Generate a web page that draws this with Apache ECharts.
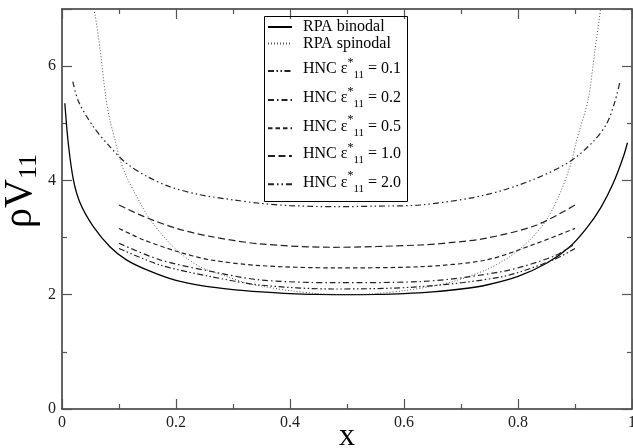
<!DOCTYPE html>
<html><head><meta charset="utf-8">
<script src="https://cdn.jsdelivr.net/npm/echarts@6/dist/echarts.min.js"></script>
<style>html,body{margin:0;padding:0;background:#fff}#c{width:633px;height:448px}</style>
</head><body><div id="c"></div>
<script>
// ---- data ----
const binodalX = [0.005,0.011,0.02,0.032,0.055,0.084,0.113,0.15,0.2,0.25,0.3,0.35,0.4,0.45,0.5,0.55,0.6,0.65,0.7,0.745,0.8,0.85,0.891,0.92,0.945,0.967,0.985,0.992];
const binodalY = [5.35,4.65,4.01,3.60,3.19,2.84,2.61,2.43,2.25,2.15,2.09,2.05,2.02,2.005,2.00,2.005,2.02,2.05,2.10,2.17,2.32,2.55,2.84,3.16,3.52,3.95,4.42,4.66];
const spinodalX = [0.055,0.058,0.067,0.077,0.084,0.093,0.102,0.113,0.131,0.151,0.178,0.207,0.242,0.289,0.324,0.35,0.4,0.45,0.5,0.55,0.6,0.65,0.686,0.745,0.786,0.821,0.85,0.874,0.894,0.903,0.923,0.935,0.945];
const spinodalY = [7.0,6.9,6.28,5.44,5.06,4.71,4.36,4.07,3.72,3.37,3.02,2.73,2.49,2.32,2.20,2.15,2.07,2.02,2.00,2.02,2.07,2.15,2.23,2.44,2.67,2.96,3.31,3.78,4.33,4.71,5.41,6.28,7.0];
const hnc20X = [0.019,0.029,0.055,0.084,0.113,0.149,0.189,0.242,0.30,0.347,0.4,0.476,0.55,0.628,0.716,0.774,0.833,0.891,0.932,0.956,0.97,0.979];
const hnc20Y = [5.73,5.38,4.94,4.59,4.30,4.07,3.89,3.75,3.66,3.60,3.56,3.54,3.55,3.57,3.69,3.83,4.04,4.33,4.68,5.00,5.38,5.73];
const hnc10X = [0.1,0.143,0.201,0.26,0.347,0.476,0.628,0.68,0.745,0.833,0.9];
const hnc10Y = [3.57,3.37,3.16,3.02,2.89,2.83,2.87,2.91,2.99,3.22,3.57];
const hnc05X = [0.1,0.143,0.201,0.26,0.347,0.476,0.628,0.745,0.833,0.9];
const hnc05Y = [3.16,2.96,2.76,2.61,2.51,2.47,2.49,2.61,2.90,3.16];
const hnc02X = [0.1,0.172,0.26,0.347,0.476,0.628,0.774,0.862,0.9];
const hnc02Y = [2.90,2.61,2.41,2.26,2.21,2.23,2.41,2.67,2.89];
const hnc01X = [0.1,0.172,0.26,0.347,0.476,0.628,0.774,0.862,0.9];
const hnc01Y = [2.81,2.52,2.32,2.17,2.10,2.14,2.32,2.61,2.81];

const xTickLabels = ['0','0.2','0.4','0.6','0.8','1'];
const yTickLabels = ['0','2','4','6'];
const seriesNames = ['RPA binodal','RPA spinodal','HNC ε*11 = 0.1','HNC ε*11 = 0.2','HNC ε*11 = 0.5','HNC ε*11 = 1.0','HNC ε*11 = 2.0'];
const epsLabels = ['0.1','0.2','0.5','1.0','2.0'];
// ---------------------------------------------

const pair = (xs, ys) => xs.map((v, i) => [v, ys[i]]);
const FONT = 'Liberation Serif';
const AX = '#333';

function mkSeries(name, xs, ys, color, width, dash) {
  return {
    name, type: 'line', data: pair(xs, ys), smooth: 0.3,
    symbol: 'none', showSymbol: false,
    xAxisIndex: 0, yAxisIndex: 0,
    lineStyle: { color, width, type: dash }, itemStyle: { color },
    emphasis: { disabled: true }, silent: true, animation: false
  };
}

const series = [
  mkSeries(seriesNames[0], binodalX, binodalY, '#000', 1.3, 'solid'),
  mkSeries(seriesNames[1], spinodalX, spinodalY, '#555', 1, [1, 2]),
  mkSeries(seriesNames[2], hnc01X, hnc01Y, '#222', 1.2, [6, 2.5, 1.5, 2.5, 1.5, 2.5]),
  mkSeries(seriesNames[3], hnc02X, hnc02Y, '#222', 1.2, [6, 3, 1.5, 3]),
  mkSeries(seriesNames[4], hnc05X, hnc05Y, '#222', 1.2, [4.5, 3]),
  mkSeries(seriesNames[5], hnc10X, hnc10Y, '#222', 1.2, [7, 3.5]),
  mkSeries(seriesNames[6], hnc20X, hnc20Y, '#222', 1.2, [6, 3, 1.5, 3, 1.5, 3])
];

const rich = {
  a: { fontFamily: FONT, fontSize: 16, color: '#000', lineHeight: 24, verticalAlign: 'middle' },
  sup: { fontFamily: FONT, fontSize: 12, color: '#000', lineHeight: 20, verticalAlign: 'top' },
  sub: { fontFamily: FONT, fontSize: 11, color: '#000', lineHeight: 9, verticalAlign: 'bottom' }
};
const lineCenters = [27, 43.5, 71, 100, 128.3, 156, 184.3];
const legends = seriesNames.map((n, i) => {
  const isHNC = i >= 2;
  return {
    show: true, data: [n], orient: 'vertical', left: 267,
    top: isHNC ? lineCenters[i] - 14 : lineCenters[i] - 8,
    padding: 0, itemWidth: 24, itemHeight: 14, selectedMode: false,
    itemStyle: { opacity: 0, borderWidth: 0 },
    formatter: isHNC ? (() => '{a|HNC ε}{sup|*}{sub|11}{a| = ' + epsLabels[i - 2] + '}') : undefined,
    textStyle: isHNC
      ? { fontFamily: FONT, fontSize: 16, color: '#000', padding: [0, 0, 4, 6], rich }
      : { fontFamily: FONT, fontSize: 16, color: '#000', padding: [0, 0, 0, 6] }
  };
});

const grid = { left: 62, right: 1, top: 9, bottom: 39, containLabel: false, outerBoundsMode: 'none' };

const baseX = {
  type: 'value', min: 0, max: 1, interval: 0.2,
  axisLine: { show: true, onZero: false, lineStyle: { color: AX, width: 1.5 } },
  axisTick: { show: true, inside: true, length: 10, lineStyle: { color: '#555', width: 1.2 } },
  minorTick: { show: true, splitNumber: 2, length: 5, lineStyle: { color: '#555', width: 1.2 } },
  splitLine: { show: false }, minorSplitLine: { show: false }
};
const baseY = {
  type: 'value', min: 0, max: 7, interval: 2,
  axisLine: { show: true, onZero: false, lineStyle: { color: AX, width: 1.5 } },
  axisTick: { show: true, inside: true, length: 10, lineStyle: { color: '#555', width: 1.2 } },
  minorTick: { show: true, splitNumber: 2, length: 5, lineStyle: { color: '#555', width: 1.2 } },
  splitLine: { show: false }, minorSplitLine: { show: false }
};

const option = {
  animation: false,
  backgroundColor: '#fff',
  grid,
  legend: legends,
  graphic: [{
    type: 'rect', left: 262, top: 14, silent: true,
    shape: { width: 143, height: 185 },
    style: { fill: 'none', stroke: '#000', lineWidth: 1 }, z: 100
  }],
  xAxis: [
    Object.assign({}, baseX, {
      position: 'bottom',
      axisLabel: { show: true, margin: 6, fontFamily: FONT, fontSize: 16, color: '#222',
        formatter: v => { const i = Math.round(v / 0.2); return xTickLabels[i] !== undefined && Math.abs(v - i * 0.2) < 1e-6 ? xTickLabels[i] : ''; } },
      name: 'x', nameLocation: 'middle', nameGap: 12, nameMoveOverlap: false,
      nameTextStyle: { fontFamily: FONT, fontSize: 32, color: '#000' }
    }),
    Object.assign({}, baseX, { position: 'top', axisLabel: { show: false } })
  ],
  yAxis: [
    Object.assign({}, baseY, {
      position: 'left',
      axisLabel: { show: true, margin: 6, fontFamily: FONT, fontSize: 16, color: '#222',
        formatter: v => { const i = Math.round(v / 2); return yTickLabels[i] !== undefined ? yTickLabels[i] : ''; } },
      name: '{r|ρV}{s|11}', nameLocation: 'middle', nameGap: 20, nameMoveOverlap: false,
      nameTextStyle: { fontFamily: FONT, color: '#000', padding: [0, 0, 0, 36],
        rich: {
          r: { fontFamily: FONT, fontSize: 40, color: '#000', lineHeight: 44, verticalAlign: 'middle' },
          s: { fontFamily: FONT, fontSize: 26, color: '#000', lineHeight: 20, verticalAlign: 'bottom' }
        } }
    }),
    Object.assign({}, baseY, { position: 'right', axisLabel: { show: false } })
  ],
  series
};

const chart = echarts.init(document.getElementById('c'), null, { renderer: 'canvas' });
chart.setOption(option);
</script>
</body></html>
